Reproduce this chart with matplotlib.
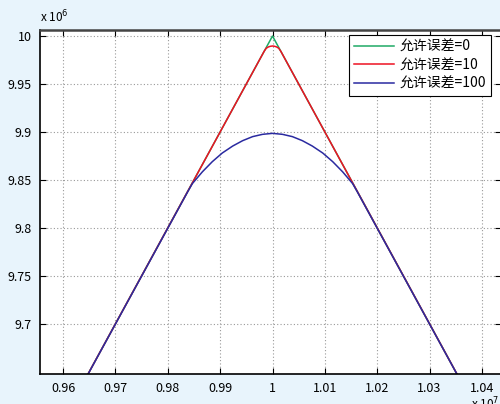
import matplotlib
matplotlib.use('Agg')
import matplotlib.pyplot as plt

plt.rcParams['font.family'] = ['Noto Sans CJK SC', 'DejaVu Sans']
plt.rcParams['axes.unicode_minus'] = False

# x in units of 1e7, y in units of 1e6 (as on the axes)
x_err0 = [0.95, 1.0, 1.05]
y_err0 = [9.5, 10.0, 9.5]

x_err10 = [0.95, 0.9984, 0.9988, 0.9992, 0.9996, 1.0, 1.0004, 1.0008, 1.0012, 1.0016, 1.05]
y_err10 = [9.5, 9.9840, 9.9872, 9.9886, 9.9893, 9.9896, 9.9893, 9.9886, 9.9872, 9.9840, 9.5]

x_err100 = [0.95, 0.9838, 0.9847, 0.9866, 0.9885, 0.9904, 0.9924, 0.9943, 0.9962, 0.9981, 1.0,
            1.0019, 1.0038, 1.0057, 1.0076, 1.0096, 1.0115, 1.0134, 1.0153, 1.0162, 1.05]
y_err100 = [9.5, 9.8376, 9.8462, 9.8584, 9.8690, 9.8780, 9.8853, 9.8909, 9.8951, 9.8975, 9.8985,
            9.8975, 9.8951, 9.8909, 9.8853, 9.8780, 9.8690, 9.8584, 9.8462, 9.8376, 9.5]

labels = ['允许误差=0', '允许误差=10', '允许误差=100']
xticks = [0.96, 0.97, 0.98, 0.99, 1.0, 1.01, 1.02, 1.03, 1.04]
xticklabels = ['0.96', '0.97', '0.98', '0.99', '1', '1.01', '1.02', '1.03', '1.04']
yticks = [9.7, 9.75, 9.8, 9.85, 9.9, 9.95, 10.0]
yticklabels = ['9.7', '9.75', '9.8', '9.85', '9.9', '9.95', '10']

bg = '#e8f4fc'
fig = plt.figure(figsize=(5, 4.04), dpi=100, facecolor=bg)
ax = fig.add_axes([0.08, (404 - 374) / 404, 460.5 / 500, 344.5 / 404])

ax.plot(x_err0, y_err0, color='#1faa66', lw=1.1, label=labels[0])
ax.plot(x_err10, y_err10, color='#ee1122', lw=1.1, label=labels[1])
ax.plot(x_err100, y_err100, color='#2a2aa0', lw=1.1, label=labels[2])

ax.set_xlim(0.95558, 1.04356)
ax.set_ylim(9.6476, 10.0068)
ax.set_xticks(xticks)
ax.set_xticklabels(xticklabels)
ax.set_yticks(yticks)
ax.set_yticklabels(yticklabels)
ax.tick_params(direction='in', length=4, width=0.8, labelsize=9,
               top=True, right=True, pad=6)
ax.grid(True, linestyle=(0, (1, 2)), color='#999999', lw=0.8)
for s in ax.spines.values():
    s.set_linewidth(1.2)
    s.set_color('black')
ax.spines['top'].set_color('#444444')
ax.spines['top'].set_linewidth(1.8)

leg = ax.legend(loc='upper right', bbox_to_anchor=(490.7 / 500, (404 - 35) / 404),
                bbox_transform=fig.transFigure, borderaxespad=0, fontsize=10,
                fancybox=False, framealpha=1, edgecolor='black',
                handlelength=2.9, handletextpad=0.4, labelspacing=0.32, borderpad=0.35)
leg.get_frame().set_linewidth(0.8)

fig.text(40 / 500, (404 - 17) / 404, r'x 10$^{6}$', fontsize=8.5, va='center', ha='left')
fig.text(471 / 500, (404 - 396) / 404, r'x 10$^{7}$', fontsize=8.5, va='top', ha='left')

fig.savefig('out.png', dpi=100, facecolor=bg)
